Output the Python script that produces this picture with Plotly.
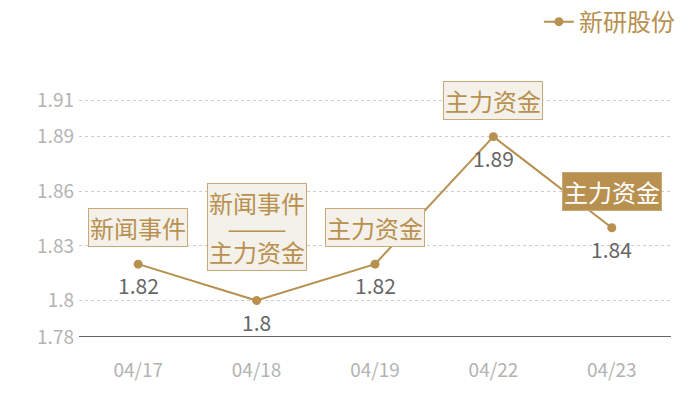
import plotly.graph_objects as go

dates = ["04/17", "04/18", "04/19", "04/22", "04/23"]
prices = [1.82, 1.80, 1.82, 1.89, 1.84]
events = ["新闻事件", "新闻事件<br>———<br>主力资金", "主力资金", "主力资金", "主力资金"]
highlight = [False, False, False, False, True]
tick_vals = [1.78, 1.80, 1.83, 1.86, 1.89, 1.91]
tick_text = ["1.78", "1.8", "1.83", "1.86", "1.89", "1.91"]
series_name = "新研股份"

GOLD = "#b8904f"
FONT = "Noto Sans CJK SC"

fig = go.Figure()
fig.add_trace(go.Scatter(
    x=dates, y=prices, mode="lines+markers", name=series_name,
    line=dict(color=GOLD, width=2), marker=dict(color=GOLD, size=9),
))

for d, p, ev, hl in zip(dates, prices, events, highlight):
    multi = "<br>" in ev
    if multi:
        txt = "<br>".join(f"<span style='font-size:24px'>{s}</span>" for s in ev.split("<br>"))
    else:
        txt = ev
    fig.add_annotation(
        x=d, y=p, text=txt, showarrow=False, xanchor="center", yanchor="bottom",
        yshift=30 if multi else 17,
        font=dict(family=FONT, size=19 if multi else 24, color="white" if hl else GOLD),
        bgcolor=GOLD if hl else "#f4f0ea",
        bordercolor="#c9a877", borderwidth=1, borderpad=1,
    )
    fig.add_annotation(
        x=d, y=p, text=f"{p:g}", showarrow=False, xanchor="center", yanchor="top",
        yshift=-4, font=dict(family=FONT, size=21, color="#666666"),
    )

fig.update_layout(
    width=700, height=400,
    margin=dict(l=71, r=37, t=74, b=71, autoexpand=False),
    paper_bgcolor="white", plot_bgcolor="white",
    font=dict(family=FONT),
    showlegend=True,
    legend=dict(orientation="h", xref="paper", yref="paper",
                x=1.015, xanchor="right", y=1.235, yanchor="middle",
                font=dict(family=FONT, size=24, color=GOLD), bgcolor="rgba(0,0,0,0)",
                itemwidth=30),
    xaxis=dict(type="category", range=[-0.5, 4.5], showgrid=False, zeroline=False,
               showline=False, ticks="", tickfont=dict(family=FONT, size=19, color="#b3b3b3"),
               ticklabelstandoff=20),
    yaxis=dict(range=[1.78, 1.92], tickvals=tick_vals, ticktext=tick_text,
               showgrid=True, gridcolor="#cccccc", griddash="dot", gridwidth=1,
               zeroline=False, showline=False, ticks="", ticklabelstandoff=4,
               tickfont=dict(family=FONT, size=19, color="#b3b3b3")),
)
fig.add_shape(type="line", xref="paper", yref="y", x0=0, x1=1, y0=1.78, y1=1.78,
              line=dict(color="#333333", width=1.5))

fig.write_html("out.html")
